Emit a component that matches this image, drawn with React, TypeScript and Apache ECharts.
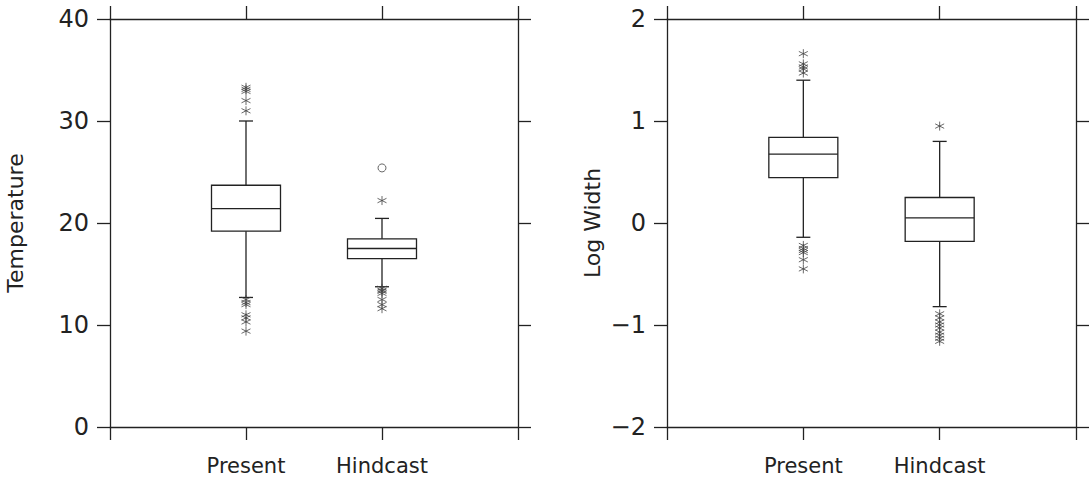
import React, { useEffect, useRef } from "react";
import * as echarts from "echarts";

// ---- data ----
const categories = ["Present", "Hindcast"];
const tempTicks = { min: 0, max: 40, step: 10 };
const widthTicks = { min: -2, max: 2, step: 1 };

// [lower whisker, Q1, median, Q3, upper whisker]
const tempPresentBox = [12.7, 19.2, 21.4, 23.7, 30.0];
const tempHindcastBox = [13.75, 16.5, 17.5, 18.45, 20.45];
const tempPresentStars = [33.3, 33.1, 32.9, 32.0, 31.0, 12.5, 12.2, 12.0, 11.0, 10.7, 10.3, 9.4];
const tempHindcastStars = [22.2, 13.6, 13.4, 13.3, 13.1, 12.5, 12.0, 11.6];
const tempHindcastCircles = [25.4];

const widthPresentBox = [-0.14, 0.445, 0.675, 0.84, 1.4];
const widthHindcastBox = [-0.82, -0.18, 0.05, 0.25, 0.8];
const widthPresentStars = [1.66, 1.56, 1.53, 1.51, 1.47, -0.22, -0.25, -0.27, -0.29, -0.36, -0.45];
const widthHindcastStars = [0.95, -0.89, -0.93, -0.97, -1.0, -1.03, -1.07, -1.1, -1.13, -1.16];

const FONT = "DejaVu Sans";
const INK = "#222";
const STAR = "path://M5,0L5,10M0.67,2.5L9.33,7.5M0.67,7.5L9.33,2.5";

function boxRender(params: any, api: any) {
  const x = api.value(0);
  const lo = api.coord([x, api.value(1)]);
  const q1 = api.coord([x, api.value(2)]);
  const md = api.coord([x, api.value(3)]);
  const q3 = api.coord([x, api.value(4)]);
  const hi = api.coord([x, api.value(5)]);
  const cx = lo[0];
  const hw = 34.5;
  const cw = 7;
  const st = { stroke: INK, lineWidth: 1.3, fill: "none" };
  return {
    type: "group",
    children: [
      { type: "line", shape: { x1: cx, y1: hi[1], x2: cx, y2: q3[1] }, style: st },
      { type: "line", shape: { x1: cx, y1: q1[1], x2: cx, y2: lo[1] }, style: st },
      { type: "line", shape: { x1: cx - cw, y1: hi[1], x2: cx + cw, y2: hi[1] }, style: st },
      { type: "line", shape: { x1: cx - cw, y1: lo[1], x2: cx + cw, y2: lo[1] }, style: st },
      { type: "rect", shape: { x: cx - hw, y: q3[1], width: 2 * hw, height: q1[1] - q3[1] }, style: st },
      { type: "line", shape: { x1: cx - hw, y1: md[1], x2: cx + hw, y2: md[1] }, style: st },
    ],
  };
}

const catFormatter = (v: number) => (v >= 1 && v <= categories.length && Number.isInteger(v) ? categories[v - 1] : "");
const numFormatter = (v: number) => (v < 0 ? "\u2212" + Math.abs(v) : String(v));

function xAxes(grid: number) {
  const common = {
    gridIndex: grid,
    type: "value",
    min: 0,
    max: categories.length + 1,
    interval: 1,
    splitLine: { show: false },
    axisLine: { show: true, onZero: false, lineStyle: { color: INK, width: 1.3 } },
    axisTick: { show: true, inside: false, length: 13, lineStyle: { color: INK, width: 1.3 } },
  };
  return [
    {
      ...common,
      position: "bottom",
      axisLabel: { show: true, formatter: catFormatter, fontFamily: FONT, fontSize: 21, color: INK, margin: 28, showMinLabel: true, showMaxLabel: true },
    },
    { ...common, position: "top", axisLabel: { show: false } },
  ];
}

function yAxes(grid: number, t: any, name: string, gap: number) {
  const common = {
    gridIndex: grid,
    type: "value",
    min: t.min,
    max: t.max,
    interval: t.step,
    splitLine: { show: false },
    axisLine: { show: true, onZero: false, lineStyle: { color: INK, width: 1.3 } },
    axisTick: { show: true, inside: false, length: 13, lineStyle: { color: INK, width: 1.3 } },
  };
  return [
    {
      ...common,
      position: "left",
      name,
      nameLocation: "middle",
      nameGap: gap,
      nameRotate: 90,
      nameTextStyle: { fontFamily: FONT, fontSize: 22, color: INK },
      axisLabel: { show: true, formatter: numFormatter, fontFamily: FONT, fontSize: 24, color: INK, margin: 21 },
    },
    { ...common, position: "right", axisLabel: { show: false } },
  ];
}

function panelSeries(xi: number, yi: number, boxes: number[][], stars: number[][], circles: number[][]) {
  return [
    {
      type: "custom",
      xAxisIndex: xi,
      yAxisIndex: yi,
      renderItem: boxRender,
      encode: { x: 0, y: [1, 2, 3, 4, 5] },
      data: boxes.map((b, i) => [i + 1, ...b]),
      silent: true,
    },
    {
      type: "scatter",
      xAxisIndex: xi,
      yAxisIndex: yi,
      symbol: STAR,
      symbolSize: 9,
      itemStyle: { color: "rgba(0,0,0,0)", borderColor: "#444", borderWidth: 1 },
      data: stars,
      silent: true,
    },
    {
      type: "scatter",
      xAxisIndex: xi,
      yAxisIndex: yi,
      symbol: "circle",
      symbolSize: 8,
      itemStyle: { color: "#fff", borderColor: "#444", borderWidth: 1 },
      data: circles,
      silent: true,
    },
  ];
}

export default function App() {
  const ref = useRef<HTMLDivElement>(null);
  useEffect(() => {
    if (!ref.current) return;
    const chart = echarts.init(ref.current, null, { renderer: "svg" });
    const tStars = [
      ...tempPresentStars.map((v) => [1, v]),
      ...tempHindcastStars.map((v) => [2, v]),
    ];
    const tCircles = tempHindcastCircles.map((v) => [2, v]);
    const wStars = [
      ...widthPresentStars.map((v) => [1, v]),
      ...widthHindcastStars.map((v) => [2, v]),
    ];
    chart.setOption({
      animation: false,
      backgroundColor: "#fff",
      grid: [
        { left: 110, width: 408, top: 19, height: 408 },
        { left: 667, width: 409, top: 19, height: 408 },
      ],
      xAxis: [...xAxes(0), ...xAxes(1)],
      yAxis: [...yAxes(0, tempTicks, "Temperature", 84), ...yAxes(1, widthTicks, "Log Width", 64)],
      series: [
        ...panelSeries(0, 0, [tempPresentBox, tempHindcastBox], tStars, tCircles),
        ...panelSeries(2, 2, [widthPresentBox, widthHindcastBox], wStars, []),
      ],
    });
    return () => chart.dispose();
  }, []);
  return <div ref={ref} style={{ position: "fixed", left: 0, top: 0, width: 1089, height: 481 }} />;
}
